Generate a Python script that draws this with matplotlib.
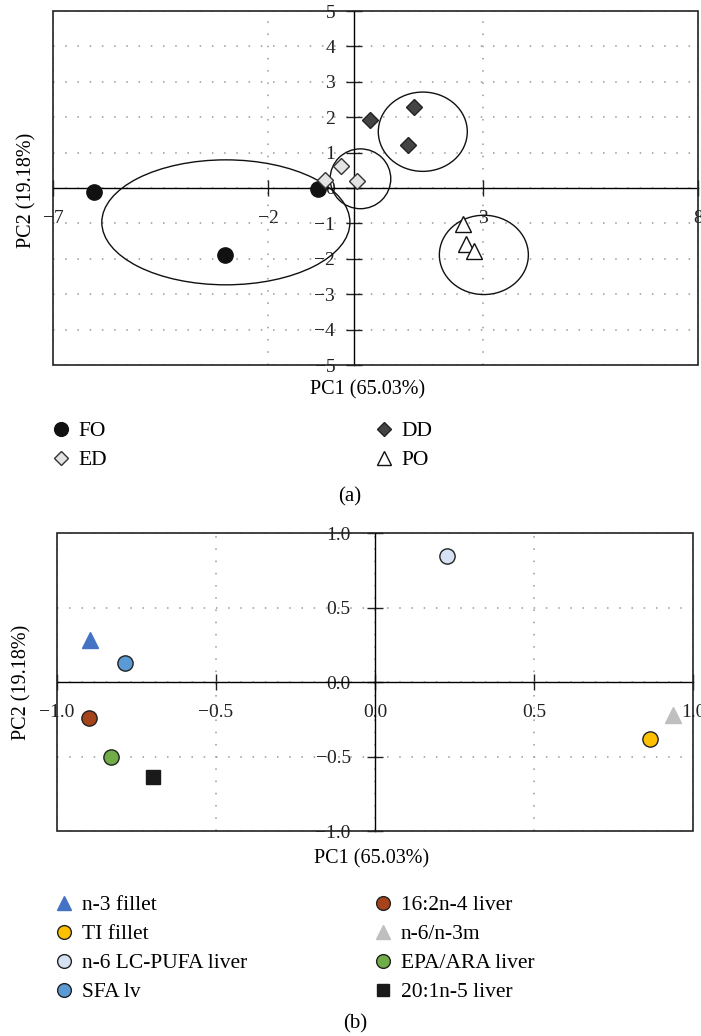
import numpy as np
import matplotlib
matplotlib.use("Agg")
import matplotlib.pyplot as plt
from matplotlib.patches import Ellipse, Rectangle
from matplotlib.lines import Line2D
from matplotlib.ticker import FuncFormatter

plt.rcParams['font.family'] = ['Liberation Serif', 'DejaVu Serif']

# panel (a): PCA scores per diet group
groups_a = ["FO", "ED", "DD", "PO"]
pc1_a = {
    "FO": [-6.05, -3.0, -0.83],
    "ED": [-0.67, -0.31, 0.06],
    "DD": [0.37, 1.40, 1.26],
    "PO": [2.54, 2.60, 2.80],
}
pc2_a = {
    "FO": [-0.12, -1.90, -0.02],
    "ED": [0.23, 0.61, 0.21],
    "DD": [1.93, 2.28, 1.22],
    "PO": [-1.02, -1.58, -1.77],
}
# confidence ellipses: centre x, centre y, width, height
ell_cx = [-2.98, 0.15, 1.60, 3.02]
ell_cy = [-0.97, 0.26, 1.59, -1.89]
ell_w = [5.77, 1.41, 2.07, 2.07]
ell_h = [3.53, 1.69, 2.24, 2.24]

# panel (b): loadings
vars_b = ["n-3 fillet", "TI fillet", "n-6 LC-PUFA liver", "SFA lv",
          "16:2n-4 liver", "n-6/n-3m", "EPA/ARA liver", "20:1n-5 liver"]
pc1_b = [-0.895, 0.864, 0.227, -0.785, -0.898, 0.937, -0.829, -0.697]
pc2_b = [0.285, -0.381, 0.849, 0.128, -0.24, -0.22, -0.50, -0.634]

sty_a = {
    "FO": dict(marker="o", color="#111111", mec="#111111", ms=11),
    "ED": dict(marker="D", color="#e3e3e3", mec="#333333", ms=8),
    "DD": dict(marker="D", color="#444444", mec="#222222", ms=8),
    "PO": dict(marker="^", color="white", mec="#111111", ms=11),
}
sty_b = [
    dict(marker="^", color="#4472c4", mec="#4472c4", ms=11),
    dict(marker="o", color="#ffc000", mec="#222222", ms=11),
    dict(marker="o", color="#d6e1f3", mec="#222222", ms=11),
    dict(marker="o", color="#5b9bd5", mec="#222222", ms=11),
    dict(marker="o", color="#a5441a", mec="#222222", ms=11),
    dict(marker="^", color="#bfbfbf", mec="#bfbfbf", ms=11),
    dict(marker="o", color="#70ad47", mec="#222222", ms=11),
    dict(marker="s", color="#1a1a1a", mec="#1a1a1a", ms=10),
]

W, H = 701, 1036
fig = plt.figure(figsize=(W / 100, H / 100), dpi=100)


def px(x0, y0, x1, y1):
    return [x0 / W, 1 - y1 / H, (x1 - x0) / W, (y1 - y0) / H]


def style_axes(ax, xt, yt, xlim, ylim):
    ax.set_xlim(*xlim)
    ax.set_ylim(*ylim)
    ax.set_xticks(xt)
    ax.set_yticks(yt)
    for s in ["top", "right"]:
        ax.spines[s].set_visible(False)
    ax.spines["left"].set_position(("data", 0))
    ax.spines["bottom"].set_position(("data", 0))
    ax.spines["left"].set_linewidth(1.0)
    ax.spines["bottom"].set_linewidth(1.0)
    ax.add_patch(Rectangle((0, 0), 1, 1, transform=ax.transAxes, fill=False,
                           ec="#222222", lw=1.2, clip_on=False, zorder=5))
    ax.tick_params(direction="inout", length=11, width=1, labelsize=14,
                   colors="#222222")
    ax.tick_params(axis="x", pad=10)
    ax.tick_params(axis="y", pad=8)
    ax.grid(True, color="#999999", lw=1.1, linestyle=(0, (1, 7)))
    ax.set_axisbelow(True)


# ---- panel (a)
ax1 = fig.add_axes(px(53, 11, 698, 365))
style_axes(ax1, [-7, -2, 3, 8], np.arange(-5, 6), (-7, 8), (-5, 5))
for cx, cy, w, h in zip(ell_cx, ell_cy, ell_w, ell_h):
    ax1.add_patch(Ellipse((cx, cy), w, h, fill=False, ec="#111111", lw=1.0, zorder=3))
for g in groups_a:
    st = sty_a[g]
    ax1.plot(pc1_a[g], pc2_a[g], ls="none", marker=st["marker"], mfc=st["color"],
             mec=st["mec"], ms=st["ms"], mew=1.0, zorder=4, label=g)

fig.text(27 / W, 1 - 190 / H, "PC2 (19.18%)", rotation=90, ha="center", va="center", fontsize=14.5)
fig.text(368 / W, 1 - 390 / H, "PC1 (65.03%)", ha="center", va="center", fontsize=14.5)


def handles(names, styles):
    out = []
    for n, st in zip(names, styles):
        ms = st["ms"] * 0.9
        out.append(Line2D([], [], ls="none", marker=st["marker"], mfc=st["color"],
                          mec=st["mec"], ms=ms, mew=1.0, label=n))
    return out


def col_legend(hs, x, y):
    lg = fig.legend(handles=hs, loc="upper left", bbox_to_anchor=(x / W, 1 - y / H),
                    frameon=False, fontsize=15.5, handlelength=0.9, handletextpad=0.38,
                    borderpad=0, borderaxespad=0, labelspacing=0.42)
    return lg


ha_ = handles(groups_a, [sty_a[g] for g in groups_a])
col_legend([ha_[0], ha_[1]], 51, 421)
col_legend([ha_[2], ha_[3]], 374, 421)
fig.text(350 / W, 1 - 497 / H, "(a)", ha="center", va="center", fontsize=15)

# ---- panel (b)
ax2 = fig.add_axes(px(56.7, 533.3, 693.3, 831))
style_axes(ax2, [-1.0, -0.5, 0.0, 0.5, 1.0], [-1.0, -0.5, 0.0, 0.5, 1.0], (-1, 1), (-1, 1))
fmt = FuncFormatter(lambda v, p: ("%.1f" % v).replace("-", "\u2212"))
ax2.xaxis.set_major_formatter(fmt)
ax2.yaxis.set_major_formatter(fmt)
ax2.tick_params(axis="y", pad=12)
for n, x, y, st in zip(vars_b, pc1_b, pc2_b, sty_b):
    ax2.plot([x], [y], ls="none", marker=st["marker"], mfc=st["color"], mec=st["mec"],
             ms=st["ms"], mew=1.0, zorder=4, label=n, clip_on=False)

fig.text(22 / W, 1 - 682 / H, "PC2 (19.18%)", rotation=90, ha="center", va="center", fontsize=14.5)
fig.text(372 / W, 1 - 859 / H, "PC1 (65.03%)", ha="center", va="center", fontsize=14.5)

hb = handles(vars_b, sty_b)
col_legend(hb[:4], 54, 895)
col_legend(hb[4:], 373, 895)
fig.text(355 / W, 1 - 1024 / H, "(b)", ha="center", va="center", fontsize=15)

fig.savefig("out.png", dpi=100)
